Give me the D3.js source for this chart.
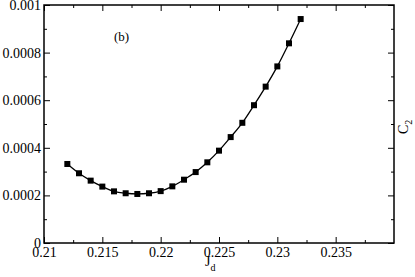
<!DOCTYPE html>
<html>
<head>
<meta charset="utf-8">
<script src="https://cdn.jsdelivr.net/npm/d3@7"></script>
<style>
  html, body { margin: 0; padding: 0; background: #fff; }
  svg text { font-family: 'Liberation Serif', 'DejaVu Serif', serif !important; }
</style>
</head>
<body>
<div id="chart"></div>
<script>
  var jd = [0.212, 0.213, 0.214, 0.215, 0.216, 0.217, 0.218, 0.219, 0.220, 0.221, 0.222,
    0.223, 0.224, 0.225, 0.226, 0.227, 0.228, 0.229, 0.230, 0.231, 0.232];
  var c2 = [0.000332, 0.000293, 0.000262, 0.000237, 0.000217, 0.000209, 0.000206, 0.000209,
    0.000218, 0.000238, 0.000266, 0.000298, 0.000339, 0.000388, 0.000445, 0.000505,
    0.000579, 0.000657, 0.000742, 0.000839, 0.000941];

  var xTicks = [0.21, 0.215, 0.22, 0.225, 0.23, 0.235];
  var xTickLabels = ['0.21', '0.215', '0.22', '0.225', '0.23', '0.235'];
  var yTicks = [0, 0.0002, 0.0004, 0.0006, 0.0008, 0.001];
  var yTickLabels = ['0', '0.0002', '0.0004', '0.0006', '0.0008', '0.001'];

  (function() {
    'use strict';

    var w = 415;
    var h = 277;
    var padL = 44, padR = 394, padT = 5, padB = 243;
    var serif = "'Liberation Serif', 'DejaVu Serif', serif";

    var svg = d3.select('#chart').append('svg').attr('width', w).attr('height', h)
      .attr('font-family', serif);

    var x = d3.scaleLinear().domain([0.21, 0.24]).range([padL, padR]);
    var y = d3.scaleLinear().domain([0, 0.001]).range([padB, padT]);

    var xMinor = [0.2125, 0.2175, 0.2225, 0.2275, 0.2325, 0.2375];
    var yMinor = [0.0001, 0.0003, 0.0005, 0.0007, 0.0009];

    //axes with inward ticks on all four sides
    var axisStyle = function(g) {
      g.attr('font-family', serif).attr('font-size', 14);
      g.select('.domain').remove();
      g.selectAll('line').attr('stroke', 'black').attr('stroke-width', 1);
      g.selectAll('text').attr('fill', 'black');
    };

    svg.append('g').attr('transform', 'translate(0,' + padB + ')')
      .call(d3.axisBottom(x).tickValues(xTicks).tickSizeInner(-6).tickPadding(0)
        .tickFormat(function(d, i) { return xTickLabels[i]; }))
      .call(axisStyle)
      .selectAll('text').attr('dy', null).attr('y', 14);

    svg.append('g').attr('transform', 'translate(0,' + padB + ')')
      .call(d3.axisBottom(x).tickValues(xMinor).tickSize(-3).tickFormat(''))
      .call(axisStyle);

    svg.append('g').attr('transform', 'translate(0,' + padT + ')')
      .call(d3.axisTop(x).tickValues(xTicks).tickSize(-6).tickFormat(''))
      .call(axisStyle);
    svg.append('g').attr('transform', 'translate(0,' + padT + ')')
      .call(d3.axisTop(x).tickValues(xMinor).tickSize(-3).tickFormat(''))
      .call(axisStyle);

    svg.append('g').attr('transform', 'translate(' + padL + ',0)')
      .call(d3.axisLeft(y).tickValues(yTicks).tickSizeInner(-6)
        .tickFormat(function(d, i) { return yTickLabels[i]; }))
      .call(axisStyle)
      .selectAll('text').attr('x', -3);

    svg.append('g').attr('transform', 'translate(' + padL + ',0)')
      .call(d3.axisLeft(y).tickValues(yMinor).tickSize(-3).tickFormat(''))
      .call(axisStyle);

    svg.append('g').attr('transform', 'translate(' + padR + ',0)')
      .call(d3.axisRight(y).tickValues(yTicks).tickSize(-6).tickFormat(''))
      .call(axisStyle);
    svg.append('g').attr('transform', 'translate(' + padR + ',0)')
      .call(d3.axisRight(y).tickValues(yMinor).tickSize(-3).tickFormat(''))
      .call(axisStyle);

    // frame
    svg.append('rect')
      .attr('x', padL).attr('y', padT)
      .attr('width', padR - padL).attr('height', padB - padT)
      .attr('fill', 'none').attr('stroke', 'black').attr('stroke-width', 1.5);

    var pts = jd.map(function(d, i) { return [d, c2[i]]; });

    var line = d3.line()
      .x(function(d) { return x(d[0]); })
      .y(function(d) { return y(d[1]); })
      .curve(d3.curveMonotoneX);

    svg.append('path').datum(pts)
      .attr('d', line)
      .attr('fill', 'none')
      .attr('stroke', 'black')
      .attr('stroke-width', 1.3);

    var sq = 6;
    svg.append('g').selectAll('rect')
      .data(pts)
      .enter()
      .append('rect')
      .attr('x', function(d) { return x(d[0]) - sq / 2; })
      .attr('y', function(d) { return y(d[1]) - sq / 2; })
      .attr('width', sq).attr('height', sq)
      .attr('fill', 'black');

    // labels
    svg.append('text').attr('x', 114).attr('y', 41).attr('font-size', 13).text('(b)');

    var xl = svg.append('text').attr('x', 205).attr('y', 266).attr('font-size', 14);
    xl.append('tspan').text('J');
    xl.append('tspan').attr('dy', 5).attr('font-size', 10).text('d');

    var yl = svg.append('text').attr('transform', 'translate(408,134) rotate(-90)').attr('font-size', 14);
    yl.append('tspan').text('C');
    yl.append('tspan').attr('dy', 4).attr('font-size', 10).text('2');
  })();
</script>
</body>
</html>
